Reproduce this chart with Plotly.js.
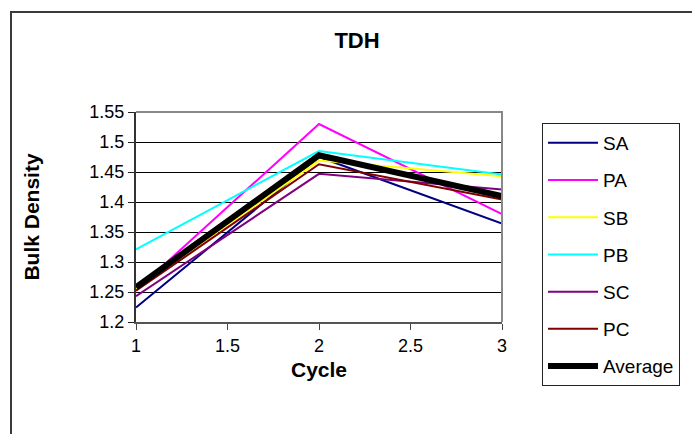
<!DOCTYPE html>
<html>
<head>
<meta charset="utf-8">
<script src="https://cdn.plot.ly/plotly-3.0.1.min.js"></script>
<style>
  html, body { margin: 0; padding: 0; background: #fff; overflow: hidden; }
  #chart { width: 692px; height: 434px; }
  #frame { position: absolute; left: 10px; top: 11px; width: 720px; height: 460px; border: 2px solid #3a3a3a; pointer-events: none; }
</style>
</head>
<body>
<div id="chart"></div>
<div id="frame"></div>
<script>
const cycles = [1, 2, 3];
const seriesNames = ['SA', 'PA', 'SB', 'PB', 'SC', 'PC', 'Average'];
const SA = [1.224, 1.475, 1.364];
const PA = [1.253, 1.530, 1.380];
const SB = [1.255, 1.469, 1.443];
const PB = [1.321, 1.485, 1.446];
const SC = [1.243, 1.447, 1.421];
const PC = [1.252, 1.463, 1.404];
const Average = [1.258, 1.478, 1.410];
const yTicks = [1.2, 1.25, 1.3, 1.35, 1.4, 1.45, 1.5, 1.55];
const xTicks = [1, 1.5, 2, 2.5, 3];

const values = [SA, PA, SB, PB, SC, PC, Average];
const colors = ['#000080', '#FF00FF', '#FFFF00', '#00FFFF', '#800080', '#800000', '#000000'];
const widths = [2, 2, 2, 2, 2, 2, 6];

const traces = seriesNames.map((n, i) => ({
  x: cycles, y: values[i], name: n, type: 'scatter', mode: 'lines',
  line: { color: colors[i], width: widths[i] }, legendgroup: n
}));

const font = 'Liberation Sans, Arial, sans-serif';
const layout = {
  width: 692, height: 434,
  margin: { l: 136, r: 190, t: 112, b: 112 },
  paper_bgcolor: '#fff', plot_bgcolor: '#fff',
  title: { text: '<b>TDH</b>', font: { family: font, size: 22, color: '#000' }, x: 357 / 692, xanchor: 'center', y: 1 - 40 / 434, yanchor: 'middle' },
  xaxis: {
    range: [1, 3], tickvals: xTicks, ticktext: xTicks.map(String),
    ticks: 'outside', ticklen: 6, tickcolor: '#444', showgrid: false, zeroline: false,
    showline: true, linecolor: '#555', linewidth: 2,
    tickfont: { family: font, size: 18, color: '#000' },
    title: { text: '<b>Cycle</b>', font: { family: font, size: 21, color: '#000' }, standoff: 8 }
  },
  yaxis: {
    range: [1.2, 1.55], tickvals: yTicks, ticktext: yTicks.map(String),
    ticks: 'outside', ticklen: 6, tickcolor: '#222', showgrid: true, gridcolor: '#000', gridwidth: 1, zeroline: false,
    showline: true, linecolor: '#333', linewidth: 2,
    tickfont: { family: font, size: 18, color: '#000' },
    title: { text: '<b>Bulk Density</b>', font: { family: font, size: 21, color: '#000' }, standoff: 44 }
  },
  shapes: [{ type: 'path', xref: 'paper', yref: 'paper', path: 'M0,1 L1,1 L1,0', line: { color: '#888', width: 2 }, layer: 'above' }],
  legend: {
    x: (542 - 136) / 366, xanchor: 'left', y: (322 - 123) / 210, yanchor: 'top',
    bgcolor: '#fff', bordercolor: '#222', borderwidth: 1,
    font: { family: font, size: 19, color: '#000' },
    tracegroupgap: 9.5, traceorder: 'grouped', itemwidth: 50, maxheight: 400
  },
  showlegend: true
};
Plotly.newPlot('chart', traces, layout, { displayModeBar: false, staticPlot: true });
</script>
</body>
</html>
